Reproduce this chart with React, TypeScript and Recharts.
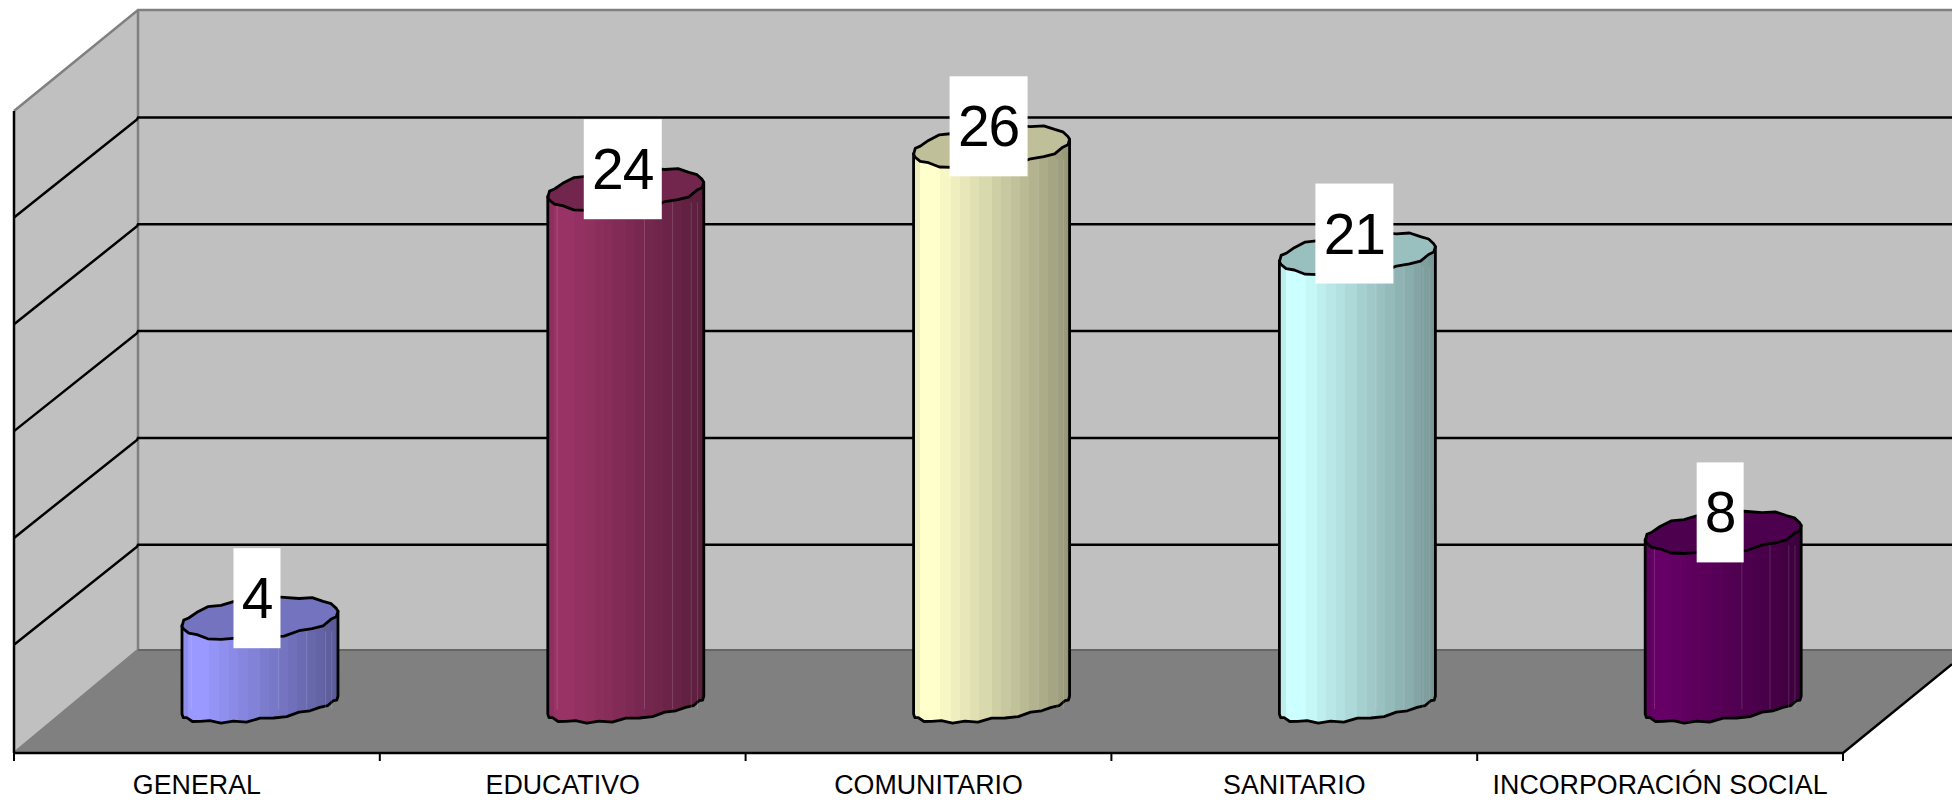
import React from "react";
import { BarChart, Bar, XAxis, YAxis, LabelList, ReferenceArea, ReferenceLine } from "recharts";

const categories = ["GENERAL", "EDUCATIVO", "COMUNITARIO", "SANITARIO", "INCORPORACIÓN SOCIAL"];
const values = [4, 24, 26, 21, 8];
const barColors = ["#9999ff", "#993366", "#ffffcc", "#ccffff", "#660066"];
const wallTicks = [5, 10, 15, 20, 25];

const rows = categories.map((name, i) => ({ name, value: values[i] }));

const WIDTH = 1952;
const HEIGHT = 802;
const DEPTH_X = 124;
const DEPTH_Y = 101;
const BAND = 365.8;

const strips = [0, 0.04, 0.1, 0.17, 0.24, 0.3, 0.36, 0.42, 0.5, 0.56, 0.62, 0.68, 0.74, 0.8, 0.86, 0.91, 0.95, 0.98, 1];
const wobble = [0, 1.2, -0.8, 1.5, 0.2, -1.3, 1, -0.5, 1.3, -1.3, 0.3, 1.1, -1, 0.5];
const seams = [0.06, 0.62, 0.8, 0.92, 0.96];

function shade(hex: string, k: number) {
  const n = parseInt(hex.slice(1), 16);
  const c = [(n >> 16) & 255, (n >> 8) & 255, n & 255].map((v) => Math.round(v * k));
  return `rgb(${c[0]},${c[1]},${c[2]})`;
}

function stripFactor(f: number) {
  if (f < 0.04) return 0.93;
  if (f < 0.1) return 1;
  return 1 - ((f - 0.1) / 0.9) * 0.42;
}

function ring(cx: number, cy: number, rx: number, ry: number, tilt: number, from: number, to: number, n: number) {
  const out: string[] = [];
  for (let i = 0; i <= n; i++) {
    const t = from + ((to - from) * i) / n;
    const edge = i === 0 || i === n ? 0 : wobble[i % wobble.length];
    const px = cx + rx * Math.cos(t);
    const py = cy + ry * Math.sin(t) - tilt * Math.cos(t) + edge;
    out.push(`${px.toFixed(1)},${py.toFixed(1)}`);
  }
  return out;
}

function Cylinder(props: any) {
  const { x, y, width, height, index } = props;
  const color = barColors[index];
  const id = `cyl-${index}`;
  const cx = x + width / 2;
  const rx = width / 2;
  const by = y + height;
  const front = ring(cx, by, rx, 14.5, 9, Math.PI, 0, 18);
  const cap = ring(cx, y - 1, rx, 20, 7, 0, Math.PI * 2, 30);
  const bodyPath = `M${cx - rx},${y + 6} L${front.join(" L")} L${cx + rx},${y - 8} Z`;
  return (
    <g>
      <defs>
        <linearGradient id={id} x1="0" y1="0" x2="1" y2="0">
          {strips.slice(0, -1).flatMap((f, i) => [
            <stop key={`${i}a`} offset={f} stopColor={shade(color, stripFactor(f))} />,
            <stop key={`${i}b`} offset={strips[i + 1]} stopColor={shade(color, stripFactor(f))} />,
          ])}
        </linearGradient>
      </defs>
      <path d={bodyPath} fill={`url(#${id})`} stroke="#000" strokeWidth={2.8} strokeLinejoin="round" />
      {seams.map((f) => (
        <line
          key={f}
          x1={x + width * f}
          x2={x + width * f}
          y1={y + 12}
          y2={by + 4}
          stroke="#fff"
          strokeOpacity={0.14}
          strokeWidth={1}
        />
      ))}
      <polygon points={cap.join(" ")} fill={shade(color, 0.75)} stroke="#000" strokeWidth={2.8} strokeLinejoin="round" />
    </g>
  );
}

function ValueBox(props: any) {
  const { x, y, width, value } = props;
  const text = String(value);
  const boxW = 16 + 31 * text.length;
  const cx = x + width / 2 - 3;
  const cy = y - 21;
  return (
    <g>
      <rect x={cx - boxW / 2} y={cy - 50} width={boxW} height={100} fill="#fff" />
      <text
        x={cx}
        y={cy}
        textAnchor="middle"
        dominantBaseline="central"
        fontFamily="'Liberation Sans', Arial, sans-serif"
        fontSize={57}
        letterSpacing={-1}
        fill="#000"
      >
        {text}
      </text>
    </g>
  );
}

function Room(props: any) {
  const { x, y, width, height } = props;
  const backX = x + DEPTH_X;
  const top = y;
  const bottom = y + height;
  const frontY = bottom + DEPTH_Y + 2;
  const rightFront = x + BAND * 5;
  const rise = ((WIDTH - rightFront) * DEPTH_Y) / DEPTH_X;
  return (
    <g>
      <rect x={backX} y={top} width={WIDTH - backX} height={height} fill="#c0c0c0" />
      <polygon points={`${x},${top + DEPTH_Y} ${backX},${top} ${backX},${bottom} ${x},${frontY}`} fill="#c0c0c0" />
      <polygon
        points={`${x},${frontY} ${backX},${bottom} ${WIDTH},${bottom} ${WIDTH},${frontY - rise} ${rightFront},${frontY}`}
        fill="#808080"
      />
      <polyline points={`${x},${top + DEPTH_Y} ${backX},${top} ${WIDTH},${top}`} fill="none" stroke="#808080" strokeWidth={2.5} />
      <polyline points={`${backX},${top} ${backX},${bottom} ${x},${frontY}`} fill="none" stroke="#808080" strokeWidth={2.5} />
      <line x1={backX} x2={WIDTH} y1={bottom} y2={bottom} stroke="#666" strokeWidth={2} />
      <line x1={x} x2={x} y1={top + DEPTH_Y} y2={frontY} stroke="#000" strokeWidth={2.5} />
      <polyline points={`${x},${frontY} ${rightFront},${frontY} ${WIDTH},${frontY - rise}`} fill="none" stroke="#000" strokeWidth={2.5} />
    </g>
  );
}

function WallLine(props: any) {
  const { x1, y1, x2, y2 } = props;
  const y = Math.min(y1, y2);
  const x = Math.min(x1, x2);
  const backX = x + DEPTH_X;
  return (
    <polyline
      points={`${x},${y + 100} ${backX - 1},${y + 2} ${backX},${y} ${WIDTH},${y}`}
      fill="none"
      stroke="#000"
      strokeWidth={2.5}
    />
  );
}

function AxisTick(props: any) {
  const { x, y, payload, index } = props;
  return (
    <g>
      <line x1={x - BAND / 2} x2={x - BAND / 2} y1={y - 8} y2={y} stroke="#000" strokeWidth={2} />
      {index === categories.length - 1 && (
        <line x1={x + BAND / 2} x2={x + BAND / 2} y1={y - 8} y2={y} stroke="#000" strokeWidth={2} />
      )}
      <text
        x={x}
        y={y + 24}
        textAnchor="middle"
        dominantBaseline="central"
        fontFamily="'Liberation Sans', Arial, sans-serif"
        fontSize={26.8}
        fill="#000"
      >
        {payload.value}
      </text>
    </g>
  );
}

export default function App() {
  return (
    <div style={{ position: "absolute", left: 0, top: 0, width: WIDTH, height: HEIGHT, background: "#fff" }}>
      <BarChart
        width={WIDTH}
        height={HEIGHT}
        data={rows}
        margin={{ top: 9, right: 46, bottom: 0, left: 14 }}
        barCategoryGap="28.7%"
      >
        <XAxis
          xAxisId="front"
          dataKey="name"
          height={49}
          padding={{ left: 0, right: 63 }}
          interval={0}
          axisLine={false}
          tickLine={false}
          tick={<AxisTick />}
        />
        <XAxis xAxisId="bars" dataKey="name" hide height={0} padding={{ left: 63, right: 0 }} />
        <YAxis yAxisId="wall" hide domain={[-4.75, 30.08]} allowDataOverflow type="number" />
        <YAxis yAxisId="bars" hide domain={[-2.238, 32.448]} allowDataOverflow type="number" />
        <ReferenceArea xAxisId="front" yAxisId="wall" y1={0.07} y2={30.03} shape={<Room />} ifOverflow="visible" zIndex={-10} fill="none" />
        {wallTicks.map((t) => (
          <ReferenceLine key={t} xAxisId="front" yAxisId="wall" y={t} shape={<WallLine />} zIndex={-5} />
        ))}
        <Bar xAxisId="bars" yAxisId="bars" dataKey="value" isAnimationActive={false} shape={<Cylinder />}>
          <LabelList dataKey="value" content={<ValueBox />} />
        </Bar>
      </BarChart>
    </div>
  );
}
